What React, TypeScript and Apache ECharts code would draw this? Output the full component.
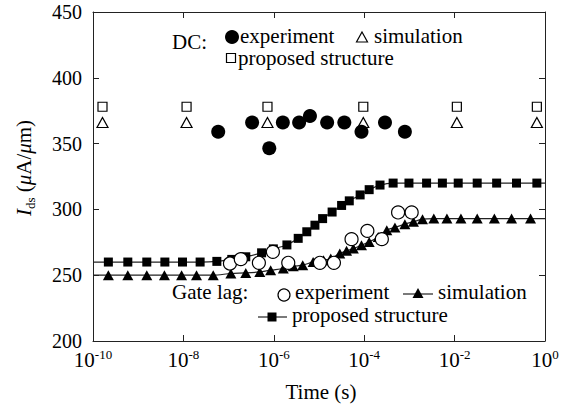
import React, { useEffect, useRef } from "react";
import * as echarts from "echarts";

// x values are log10(time / s)
const dcRefLogT = [-9.79, -7.93, -6.14, -4.02, -1.95, -0.18];
const dcSimVals = [366, 366, 366, 366, 366, 366];
const dcPropVals = [378, 378, 378, 378, 378, 378];

const dcExpLogT = [-7.23, -6.48, -6.1, -5.8, -5.44, -5.2, -4.82, -4.44, -4.06, -3.54, -3.1];
const dcExpVals = [359, 366, 346.5, 366, 366, 371, 366, 366, 359, 366, 359];

const glPropLogT = [-9.66, -9.23, -8.81, -8.41, -8.02, -7.63, -7.26, -6.93, -6.62, -6.27, -6.01, -5.71, -5.46, -5.27, -5.09, -4.92, -4.71, -4.5, -4.33, -4.09, -3.89, -3.65, -3.36, -3.01, -2.62, -2.27, -1.92, -1.5, -1.07, -0.63, -0.18];
const glPropVals = [260, 260, 260, 260, 260, 260, 260.5, 262, 264, 267, 270, 273, 278, 283, 288, 293, 298, 303, 306.5, 311, 315, 318.5, 320, 320, 320, 320, 320, 320, 320, 320, 320];

const glSimLogT = [-9.66, -9.23, -8.81, -8.42, -8.04, -7.71, -7.34, -6.95, -6.62, -6.31, -6.07, -5.79, -5.57, -5.36, -5.13, -4.9, -4.74, -4.54, -4.39, -4.24, -4.06, -3.89, -3.69, -3.5, -3.32, -3.1, -2.91, -2.71, -2.46, -2.17, -1.86, -1.5, -1.12, -0.74, -0.32];
const glSimVals = [250, 250, 250, 250, 250, 250, 250, 251.3, 251.7, 252.5, 253.8, 255.1, 256.8, 257.6, 260.1, 261.4, 262.7, 266.5, 268.5, 270.3, 272.8, 275.3, 279.1, 284.2, 286.3, 288.8, 290.6, 292.6, 293, 293, 293, 293, 293, 293, 293];

const glExpLogT = [-6.97, -6.73, -6.33, -6.02, -5.68, -4.98, -4.67, -4.28, -3.93, -3.61, -3.25, -2.95];
const glExpVals = [258.9, 262.2, 259.4, 267.7, 259.4, 259.4, 259.4, 277.4, 283.7, 277.4, 297.7, 297.7];

// fitted curve end values at the axis limits
const propLineEnds = [[-10, 260], [0, 320]];
const simLineEnds = [[-10, 250], [0, 293]];

const FONT = '"Liberation Serif", "Times New Roman", serif';
const INK = "#000";

const zip = (xs: number[], ys: number[]) => xs.map((x, i) => [x, ys[i]]);

export default function App() {
  const ref = useRef<HTMLDivElement>(null);
  useEffect(() => {
    if (!ref.current) return;
    const chart = echarts.init(ref.current, null, { renderer: "svg" });
    const axisLine = { show: true, onZero: false, lineStyle: { color: "#222", width: 1 } };
    const axisTick = { show: true, inside: true, length: 6, lineStyle: { color: "#222", width: 1 } };
    const propLine = [propLineEnds[0], ...zip(glPropLogT, glPropVals), propLineEnds[1]];
    const simLine = [simLineEnds[0], ...zip(glSimLogT, glSimVals), simLineEnds[1]];
    const txt = (text: string, x: number, y: number, size = 20) => ({
      type: "text",
      x,
      y,
      style: { text, fontFamily: FONT, fontSize: size, fill: INK, align: "left", verticalAlign: "middle" },
    });
    const option: any = {
      animation: false,
      grid: { left: 93, right: 19, top: 12, bottom: 68 },
      xAxis: [
        {
          type: "value",
          min: -10,
          max: 0,
          interval: 2,
          position: "bottom",
          axisLine,
          axisTick,
          splitLine: { show: false },
          axisLabel: {
            margin: 7,
            formatter: (v: number) => `{b|10}{s|${v}}`,
            rich: {
              b: { fontFamily: FONT, fontSize: 21, color: INK, lineHeight: 24 },
              s: { fontFamily: FONT, fontSize: 13, color: INK, lineHeight: 12, verticalAlign: "top" },
            },
          },
        },
        {
          type: "value",
          min: -10,
          max: 0,
          interval: 2,
          position: "top",
          axisLine,
          axisTick,
          splitLine: { show: false },
          axisLabel: { show: false },
        },
      ],
      yAxis: [
        {
          type: "value",
          min: 200,
          max: 450,
          interval: 50,
          position: "left",
          axisLine,
          axisTick,
          splitLine: { show: false },
          axisLabel: { margin: 11, fontFamily: FONT, fontSize: 20, color: INK },
        },
        {
          type: "value",
          min: 200,
          max: 450,
          interval: 50,
          position: "right",
          axisLine,
          axisTick,
          splitLine: { show: false },
          axisLabel: { show: false },
        },
      ],
      series: [
        {
          type: "line",
          data: propLine,
          smooth: 0.3,
          showSymbol: false,
          symbol: "none",
          lineStyle: { color: "#222", width: 1.2 },
          z: 2,
        },
        {
          type: "line",
          data: simLine,
          smooth: 0.3,
          showSymbol: false,
          symbol: "none",
          lineStyle: { color: "#222", width: 1.2 },
          z: 2,
        },
        {
          type: "scatter",
          data: zip(glSimLogT, glSimVals),
          symbol: "triangle",
          symbolSize: [11, 10],
          itemStyle: { color: INK, opacity: 1 },
          z: 3,
        },
        {
          type: "scatter",
          data: zip(glPropLogT, glPropVals),
          symbol: "rect",
          symbolSize: 9,
          itemStyle: { color: INK, opacity: 1 },
          z: 3,
        },
        {
          type: "scatter",
          data: zip(glExpLogT, glExpVals),
          symbol: "circle",
          symbolSize: 13,
          itemStyle: { color: "#fff", borderColor: INK, borderWidth: 1.2, opacity: 1 },
          z: 4,
        },
        {
          type: "scatter",
          data: zip(dcRefLogT, dcPropVals),
          symbol: "rect",
          symbolSize: 9,
          itemStyle: { color: "transparent", borderColor: INK, borderWidth: 1.2, opacity: 1 },
          z: 3,
        },
        {
          type: "scatter",
          data: zip(dcRefLogT, dcSimVals),
          symbol: "triangle",
          symbolSize: [11, 10],
          itemStyle: { color: "transparent", borderColor: INK, borderWidth: 1.2, opacity: 1 },
          z: 3,
        },
        {
          type: "scatter",
          data: zip(dcExpLogT, dcExpVals),
          symbol: "circle",
          symbolSize: 14,
          itemStyle: { color: INK, opacity: 1 },
          z: 4,
        },
      ],
      graphic: [
        // axis titles
        {
          type: "text",
          x: 321,
          y: 392,
          style: { text: "Time (s)", fontFamily: FONT, fontSize: 21, fill: INK, align: "center", verticalAlign: "middle" },
        },
        {
          type: "text",
          x: 24,
          y: 168,
          rotation: Math.PI / 2,
          style: {
            text: "{i|I}{sub|ds} ({i|\u03bc}A/{i|\u03bc}m)",
            fontFamily: FONT,
            fontSize: 21,
            fill: INK,
            align: "center",
            verticalAlign: "middle",
            rich: {
              i: { fontFamily: FONT, fontSize: 21, fontStyle: "italic", fill: INK, lineHeight: 26 },
              sub: { fontFamily: FONT, fontSize: 13, fill: INK, lineHeight: 12, verticalAlign: "bottom" },
            },
          },
        },
        // DC legend
        txt("DC:", 172, 42, 21),
        { type: "circle", shape: { cx: 232, cy: 37, r: 7 }, style: { fill: INK } },
        txt("experiment", 240, 36, 21),
        {
          type: "polygon",
          shape: { points: [[362, 32], [367.5, 42], [356.5, 42]] },
          style: { fill: "none", stroke: INK, lineWidth: 1.2 },
        },
        txt("simulation", 374, 36, 21),
        { type: "rect", shape: { x: 226.5, y: 53.5, width: 9, height: 9 }, style: { fill: "none", stroke: INK, lineWidth: 1.2 } },
        txt("proposed structure", 238, 58, 21),
        // Gate lag legend
        txt("Gate lag:", 172, 292, 21),
        { type: "circle", shape: { cx: 284, cy: 295, r: 6 }, style: { fill: "#fff", stroke: INK, lineWidth: 1.2 } },
        txt("experiment", 295, 292, 21),
        { type: "line", shape: { x1: 403, y1: 294, x2: 433, y2: 294 }, style: { stroke: "#222", lineWidth: 1.2 } },
        {
          type: "polygon",
          shape: { points: [[418, 288], [423.5, 298], [412.5, 298]] },
          style: { fill: INK },
        },
        txt("simulation", 438, 292, 21),
        { type: "line", shape: { x1: 258, y1: 317, x2: 287, y2: 317 }, style: { stroke: "#222", lineWidth: 1.2 } },
        { type: "rect", shape: { x: 267.5, y: 312.5, width: 9, height: 9 }, style: { fill: INK } },
        txt("proposed structure", 292, 315, 21),
      ],
    };
    chart.setOption(option);
    return () => chart.dispose();
  }, []);
  return (
    <div
      ref={ref}
      style={{ position: "fixed", left: 0, top: 0, width: 564, height: 409, background: "#fff" }}
    />
  );
}
